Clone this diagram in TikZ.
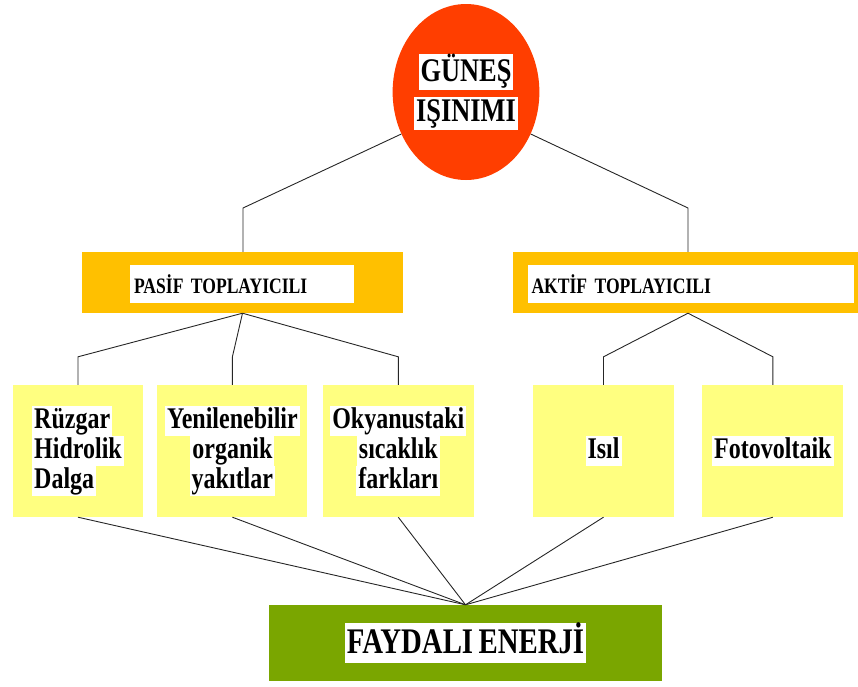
\documentclass[tikz,border=0pt]{standalone}
\usepackage{fontspec}
\setmainfont{Liberation Serif}[FakeStretch=0.8, WordSpace=0.75]
\usetikzlibrary{shapes.geometric, positioning}

\definecolor{sunred}{RGB}{255,62,0}
\definecolor{panelorange}{RGB}{255,192,0}
\definecolor{leafyellow}{RGB}{255,255,128}
\definecolor{usegreen}{RGB}{122,166,0}

\newcommand{\whitebg}[1]{{\setlength{\fboxsep}{0pt}\colorbox{white}{\hspace{2pt}\rule[-0.25em]{0pt}{1em}#1\hspace{2pt}}}}

\begin{document}
\begin{tikzpicture}[x=1pt, y=-1pt, font=\bfseries]
    \tikzstyle{leaf} = [rectangle, fill=leafyellow, minimum height=132pt, inner sep=0pt, font=\bfseries\fontsize{30}{30}\selectfont]
    \tikzstyle{panel} = [rectangle, fill=panelorange, minimum height=61pt, inner sep=0pt]
    \tikzstyle{paneltext} = [rectangle, fill=white, minimum height=38pt, inner xsep=4pt, inner ysep=0pt, align=left, font=\bfseries\fontsize{22}{26}\selectfont]
    \tikzstyle{link} = [draw=black!85, line width=0.9pt]

    \useasboundingbox (0,0) rectangle (858,686);

    % Source
    \node [ellipse, fill=sunred, minimum width=142pt, minimum height=176pt, inner sep=0pt, align=center, font=\bfseries\fontsize{33}{40}\selectfont] (sun) at (466,92) {\whitebg{GÜNEŞ}\\\whitebg{IŞINIMI}};

    % Collector types
    \node [panel, minimum width=321pt] (pasif) at (242.5,282.5) {};
    \node [paneltext, text width=216pt] (pasiftxt) at (242,284) {PASİF TOPLAYICILI};
    \node [panel, minimum width=345pt] (aktif) at (685.5,282.5) {};
    \node [paneltext, text width=318pt] (aktiftxt) at (690.5,284) {AKTİF TOPLAYICILI};

    % Passive branch
    \node [leaf, minimum width=130pt, align=left] (ruzgar) at (78,451) {\whitebg{Rüzgar}\\\whitebg{Hidrolik}\\\whitebg{Dalga}};
    \node [leaf, minimum width=150pt, align=center, right=14pt of ruzgar] (organik) {\whitebg{Yenilenebilir}\\\whitebg{organik}\\\whitebg{yakıtlar}};
    \node [leaf, minimum width=151pt, align=center, right=15pt of organik] (okyanus) {\whitebg{Okyanustaki}\\\whitebg{sıcaklık}\\\whitebg{farkları}};

    % Active branch
    \node [leaf, minimum width=141pt] (isil) at (603.5,451) {\whitebg{Isıl}};
    \node [leaf, minimum width=141pt, right=28pt of isil] (foto) {\whitebg{Fotovoltaik}};

    % Output
    \node [rectangle, fill=usegreen, minimum width=393pt, minimum height=76pt, inner sep=0pt, font=\bfseries\fontsize{36}{40}\selectfont] (fayda) at (465.5,643) {\whitebg{FAYDALI ENERJİ}};

    % Connections
    \coordinate (pk) at (243,208);
    \coordinate (ak) at (688,208);
    \draw [link] (sun.213) -- (pk) -- (pk |- pasif.north);
    \draw [link] (sun.327) -- (ak) -- (ak |- aktif.north);

    \foreach \leafname in {ruzgar, organik, okyanus}
        \draw [link] (pasif.south) -- ([yshift=28pt]\leafname.north) -- (\leafname.north);
    \foreach \leafname in {isil, foto}
        \draw [link] (ak |- aktif.south) -- ([yshift=28pt]\leafname.north) -- (\leafname.north);

    \foreach \leafname in {ruzgar, organik, okyanus, isil, foto}
        \draw [link] (\leafname.south) -- (fayda.north);
\end{tikzpicture}
\end{document}
